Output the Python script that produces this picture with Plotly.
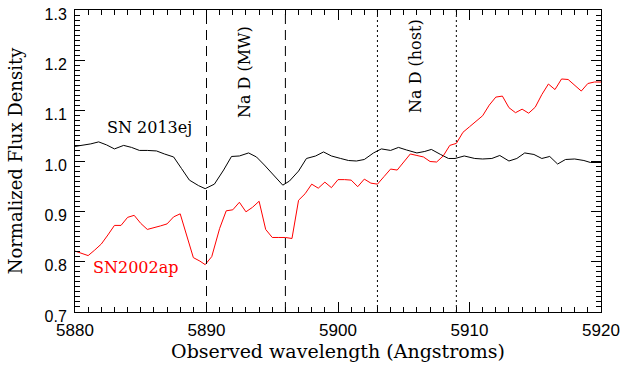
import plotly.graph_objects as go

# SN 2013ej (black)
lam_ej = [5880.0, 5880.6, 5881.2, 5881.8, 5882.4, 5883.0, 5883.7, 5884.3, 5884.9, 5885.5,
          5886.2, 5886.8, 5887.5, 5888.1, 5888.7, 5889.4, 5889.9, 5890.6, 5891.3, 5891.9,
          5892.5, 5893.2, 5893.8, 5894.4, 5895.1, 5895.8, 5896.3, 5897.0, 5897.6, 5898.3,
          5898.9, 5899.5, 5900.2, 5900.8, 5901.4, 5902.0, 5902.7, 5903.3, 5904.0, 5904.6,
          5905.2, 5906.0, 5906.6, 5907.1, 5907.8, 5908.4, 5908.9, 5909.6, 5910.4, 5911.0,
          5911.7, 5912.3, 5913.0, 5913.6, 5914.2, 5914.9, 5915.5, 5916.1, 5916.7, 5917.3,
          5918.0, 5918.7, 5919.2, 5920.0]
flux_ej = [1.029, 1.031, 1.034, 1.038, 1.032, 1.024, 1.031, 1.027, 1.021, 1.021,
           1.020, 1.014, 1.008, 0.985, 0.962, 0.951, 0.945, 0.954, 0.982, 1.009,
           1.010, 1.016, 1.008, 0.992, 0.973, 0.952, 0.960, 0.980, 1.005, 1.010,
           1.018, 1.010, 1.005, 1.001, 1.000, 1.003, 1.016, 1.024, 1.021, 1.027,
           1.022, 1.016, 1.019, 1.023, 1.013, 1.005, 1.005, 1.010, 1.005, 1.004,
           1.005, 1.011, 1.000, 1.005, 1.016, 1.013, 1.005, 1.009, 0.994, 1.003,
           1.004, 1.001, 0.997, 0.997]

# SN2002ap (red)
lam_ap = [5880.0, 5881.0, 5881.5, 5882.0, 5882.5, 5883.0, 5883.5, 5884.0, 5884.5, 5885.0,
          5885.5, 5886.0, 5886.5, 5887.0, 5887.5, 5888.0, 5888.5, 5889.0, 5889.5, 5889.9,
          5890.4, 5891.0, 5891.5, 5892.0, 5892.5, 5893.0, 5893.5, 5894.0, 5894.5, 5895.0,
          5895.5, 5896.0, 5896.5, 5897.0, 5897.5, 5898.0, 5898.5, 5899.0, 5899.5, 5900.0,
          5900.5, 5901.0, 5901.5, 5902.0, 5902.5, 5903.0, 5903.5, 5904.0, 5904.5, 5905.0,
          5905.5, 5906.0, 5906.5, 5907.0, 5907.5, 5908.0, 5908.5, 5909.0, 5909.5, 5910.0,
          5910.5, 5911.0, 5911.5, 5912.0, 5912.5, 5913.0, 5913.5, 5914.0, 5914.5, 5915.0,
          5915.5, 5916.0, 5916.5, 5917.0, 5917.5, 5918.0, 5918.5, 5919.0, 5919.5, 5920.0]
flux_ap = [0.821, 0.812, 0.823, 0.835, 0.853, 0.872, 0.872, 0.888, 0.892, 0.876,
           0.864, 0.867, 0.871, 0.875, 0.889, 0.895, 0.852, 0.808, 0.801, 0.794,
           0.810, 0.866, 0.901, 0.903, 0.918, 0.899, 0.908, 0.920, 0.864, 0.848,
           0.848, 0.848, 0.846, 0.922, 0.935, 0.954, 0.946, 0.958, 0.947, 0.963,
           0.963, 0.962, 0.949, 0.964, 0.956, 0.954, 0.969, 0.984, 0.982, 0.999,
           1.014, 1.011, 1.008, 0.999, 0.998, 1.010, 1.031, 1.035, 1.057, 1.068,
           1.080, 1.090, 1.111, 1.127, 1.129, 1.106, 1.096, 1.103, 1.095, 1.107,
           1.132, 1.153, 1.142, 1.163, 1.162, 1.150, 1.139, 1.154, 1.157, 1.157]

dashed_lines = [5890, 5896]
dotted_lines = [5903, 5909]

x_ticks = [5880, 5890, 5900, 5910, 5920]
y_ticks = [0.7, 0.8, 0.9, 1.0, 1.1, 1.2, 1.3]
y_tick_text = ["0.7", "0.8", "0.9", "1.0", "1.1", "1.2", "1.3"]

SERIF = "DejaVu Serif"
SANS = "Liberation Sans"

fig = go.Figure()
fig.add_trace(go.Scatter(x=lam_ej, y=flux_ej, mode="lines",
                         line=dict(color="black", width=1), showlegend=False))
fig.add_trace(go.Scatter(x=lam_ap, y=flux_ap, mode="lines",
                         line=dict(color="#ff0000", width=1), showlegend=False))

shapes = []
for xv in dashed_lines:
    shapes.append(dict(type="line", xref="x", yref="paper", x0=xv, x1=xv, y0=0, y1=1,
                       line=dict(color="black", width=1, dash="10px,6px")))
for xv in dotted_lines:
    shapes.append(dict(type="line", xref="x", yref="paper", x0=xv, x1=xv, y0=0, y1=1,
                       line=dict(color="black", width=1, dash="2px,3px")))

annotations = [
    dict(x=5885.7, y=1.067, text="SN 2013ej", showarrow=False,
         font=dict(family=SERIF, size=16, color="black")),
    dict(x=5884.6, y=0.788, text="SN2002ap", showarrow=False,
         font=dict(family=SERIF, size=16, color="#ff0000")),
    dict(x=5892.9, y=1.176, text="Na D (MW)", showarrow=False, textangle=-90,
         font=dict(family=SERIF, size=16, color="black")),
    dict(x=5905.9, y=1.188, text="Na D (host)", showarrow=False, textangle=-90,
         font=dict(family=SERIF, size=16, color="black")),
]

fig.update_layout(
    width=636, height=366,
    margin=dict(l=75, r=35, t=6, b=54),
    plot_bgcolor="white", paper_bgcolor="white",
    shapes=shapes, annotations=annotations,
    xaxis=dict(range=[5880, 5920], tickvals=x_ticks, ticks="inside", ticklen=10,
               tickwidth=1, tickcolor="black", showline=True, linecolor="black",
               linewidth=1, mirror="allticks", showgrid=False, zeroline=False,
               ticklabelstandoff=3,
               tickfont=dict(family=SANS, size=17, color="black"),
               minor=dict(dtick=1, ticks="inside", ticklen=5, tickcolor="black", showgrid=False),
               title=dict(text="Observed wavelength (Angstroms)", standoff=5,
                          font=dict(family=SERIF, size=19, color="black"))),
    yaxis=dict(range=[0.6999, 1.3001], tickvals=y_ticks, ticktext=y_tick_text, ticks="inside",
               ticklen=10, tickwidth=1, tickcolor="black", showline=True, linecolor="black",
               linewidth=1, mirror="allticks", showgrid=False, zeroline=False,
               ticklabelstandoff=4, ticklabelshift=4,
               tickfont=dict(family=SANS, size=16, color="black"),
               minor=dict(dtick=0.01, ticks="inside", ticklen=5, tickcolor="black", showgrid=False),
               title=dict(text="Normalized Flux Density", standoff=17,
                          font=dict(family=SERIF, size=18, color="black"))),
)

fig.write_html("out.html")
